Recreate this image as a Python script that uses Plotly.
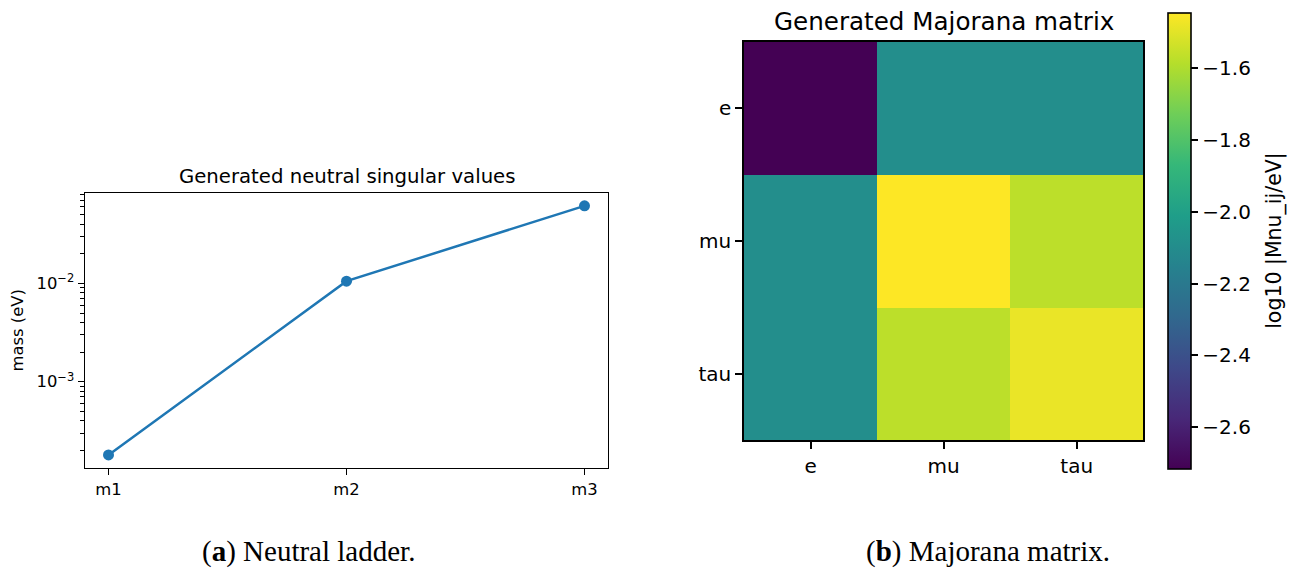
import plotly.graph_objects as go

W, H = 1294, 576

# neutral singular values (eV)
mass_labels = ["m1", "m2", "m3"]
masses = [1.80e-4, 1.055e-2, 6.16e-2]

# Majorana matrix, log10 |Mnu_ij / eV|
flavours = ["e", "mu", "tau"]
log_mnu = [
    [-2.715, -2.09, -2.09],
    [-2.09, -1.448, -1.575],
    [-2.09, -1.575, -1.486],
]
cbar_ticks = [-2.6, -2.4, -2.2, -2.0, -1.8, -1.6]


def px(x):
    return x / W


def py(y):
    return 1 - y / H


fig = go.Figure()

fig.add_trace(go.Scatter(
    x=mass_labels, y=masses, mode="lines+markers",
    line=dict(color="#1f77b4", width=2.5),
    marker=dict(color="#1f77b4", size=11),
    xaxis="x", yaxis="y", showlegend=False,
))

fig.add_trace(go.Heatmap(
    z=log_mnu, x=flavours, y=flavours, colorscale="Viridis",
    xaxis="x2", yaxis="y2",
    colorbar=dict(
        x=px(1167.7), xanchor="left", y=py(240.85), yanchor="middle",
        xpad=0, ypad=0,
        thickness=23, thicknessmode="pixels",
        len=456.3, lenmode="pixels",
        outlinewidth=1.6, outlinecolor="black",
        ticks="outside", ticklen=7, tickwidth=1.6, tickcolor="black",
        tickvals=cbar_ticks, ticktext=[f"\u2212{abs(v):.1f}" for v in cbar_ticks],
        tickfont=dict(family="DejaVu Sans", size=20, color="black"),
    ),
))

minor_vals = [k * 10.0 ** e for e in (-4, -3, -2, -1) for k in range(2, 10)]

fig.update_layout(
    width=W, height=H,
    margin=dict(l=0, r=0, t=0, b=0),
    paper_bgcolor="white", plot_bgcolor="white",
    font=dict(family="DejaVu Sans", color="black"),
    xaxis=dict(
        domain=[px(84.7), px(608.3)], anchor="y",
        type="category", range=[-0.1, 2.1],
        showline=True, mirror=True, linecolor="black", linewidth=1.3,
        ticks="outside", ticklen=6, tickwidth=1.3, tickcolor="black",
        showgrid=False, zeroline=False,
        tickfont=dict(size=16.4),
    ),
    yaxis=dict(
        domain=[py(467.7), py(193.3)], anchor="x",
        type="log", range=[-3.875, -1.083],
        showline=True, mirror=True, linecolor="black", linewidth=1.3,
        ticks="outside", ticklen=6, tickwidth=1.3, tickcolor="black",
        tickvals=[1e-3, 1e-2], ticktext=["10<sup>\u22123</sup>", "10<sup>\u22122</sup>"],
        minor=dict(tickvals=minor_vals, ticks="outside", ticklen=3.3,
                   tickwidth=1.1, tickcolor="black", showgrid=False),
        showgrid=False, zeroline=False,
        tickfont=dict(size=16.4),
    ),
    xaxis2=dict(
        domain=[px(744), px(1143.3)], anchor="y2",
        showline=True, mirror=True, linecolor="black", linewidth=1.6,
        ticks="outside", ticklen=7, tickwidth=1.6, tickcolor="black",
        showgrid=False, zeroline=False,
        tickfont=dict(size=20),
    ),
    yaxis2=dict(
        domain=[py(440.3), py(41.7)], anchor="x2",
        autorange="reversed",
        showline=True, mirror=True, linecolor="black", linewidth=1.6,
        ticks="outside", ticklen=7, tickwidth=1.6, tickcolor="black",
        showgrid=False, zeroline=False,
        tickfont=dict(size=20),
    ),
)

notes = [
    dict(text="Generated neutral singular values", x=px(346.5), y=py(176.5),
         font=dict(size=19.7)),
    dict(text="mass (eV)", x=px(17), y=py(330.5), textangle=-90,
         font=dict(size=16.4)),
    dict(text="Generated Majorana matrix", x=px(943.7), y=py(22),
         font=dict(size=24.6)),
    dict(text="log10 |Mnu_ij/eV|", x=px(1275), y=py(240.85), textangle=-90,
         font=dict(size=20.5)),
    dict(text="(<b>a</b>) Neutral ladder.", x=px(308), y=py(551),
         font=dict(family="Liberation Serif", size=29)),
    dict(text="(<b>b</b>) Majorana matrix.", x=px(988), y=py(551),
         font=dict(family="Liberation Serif", size=29)),
]
for n in notes:
    fig.add_annotation(xref="paper", yref="paper", showarrow=False,
                       xanchor="center", yanchor="middle", **n)

fig.write_html("out.html", config={"displayModeBar": False},
               post_script="document.body.style.margin='0';")
